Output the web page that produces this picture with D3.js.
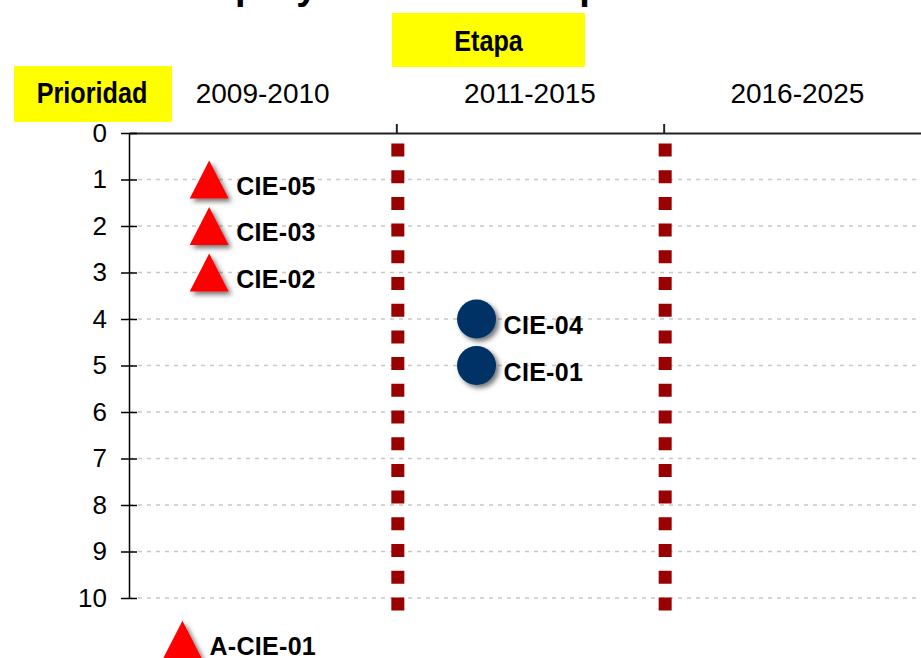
<!DOCTYPE html>
<html>
<head>
<meta charset="utf-8">
<script src="https://cdn.jsdelivr.net/npm/d3@7"></script>
<style>
body { margin:0; background:#fff; }
text { font-family: "Liberation Sans", Arial, sans-serif; }
</style>
</head>
<body>
<svg id="svg"></svg>
<script>
var W = 921, H = 658;

// etapas (eje superior) y prioridades (eje izquierdo)
var etapas = ["2009-2010", "2011-2015", "2016-2025"];
var limites = [1, 2];
var prioridades = [0, 1, 2, 3, 4, 5, 6, 7, 8, 9, 10];

// proyectos
var proyectos = ["CIE-05", "CIE-03", "CIE-02", "CIE-04", "CIE-01", "A-CIE-01"];
var posEtapa  = [0.3, 0.3, 0.3, 1.3, 1.3, 0.2];
var prioridad = [1, 2, 3, 4, 5, 10.9];
var forma     = ["tri", "tri", "tri", "circ", "circ", "tri"];

var datos = proyectos.map(function(p, i) {
  return {id: p, etapa: posEtapa[i], prio: prioridad[i], forma: forma[i]};
});

var svg = d3.select("#svg")
    .attr("width", W)
    .attr("height", H);

svg.append("rect").attr("width", W).attr("height", H).attr("fill", "#fff");

var defs = svg.append("defs");
defs.append("filter")
    .attr("id", "sombra")
    .attr("x", "-50%").attr("y", "-50%").attr("width", "200%").attr("height", "200%")
  .append("feDropShadow")
    .attr("dx", 3).attr("dy", 3)
    .attr("stdDeviation", 2.5)
    .attr("flood-color", "#000")
    .attr("flood-opacity", 0.55);

var x = d3.scaleLinear().domain([0, 3]).range([129, 931]);
var y = d3.scaleLinear().domain([0, 10]).range([133, 598]);

// titulo (cortado arriba, como en la imagen)
var titulo = svg.append("text")
    .attr("y", -1)
    .attr("font-size", 38)
    .attr("font-weight", "bold")
    .text("Priorización de los proyectos de la etapa");
var pre = titulo.node().getSubStringLength(0, "Priorización de los ".length);
titulo.attr("x", 235 - pre);

// cuadros amarillos (texto estrecho)
function textoEstrecho(cx, cy, s) {
  svg.append("text")
      .attr("transform", "translate(" + cx + "," + cy + ") scale(0.84,1)")
      .attr("text-anchor", "middle")
      .attr("font-size", 30)
      .attr("font-weight", "bold")
      .text(s);
}
svg.append("rect").attr("x", 392).attr("y", 13).attr("width", 193).attr("height", 54).attr("fill", "#ffff00");
textoEstrecho(488.5, 51, "Etapa");

svg.append("rect").attr("x", 14).attr("y", 66).attr("width", 158).attr("height", 56).attr("fill", "#ffff00");
textoEstrecho(92, 103, "Prioridad");

// etiquetas de etapa
svg.selectAll("text.etapa")
    .data(etapas)
  .enter().append("text")
    .attr("class", "etapa")
    .attr("x", function(d, i) { return x(i + 0.5); })
    .attr("y", 103)
    .attr("text-anchor", "middle")
    .attr("font-size", 28)
    .text(function(d) { return d; });

// lineas de cuadricula
svg.selectAll("line.grid")
    .data(prioridades.slice(1))
  .enter().append("line")
    .attr("class", "grid")
    .attr("x1", x(0)).attr("x2", W)
    .attr("y1", function(d) { return y(d); })
    .attr("y2", function(d) { return y(d); })
    .attr("stroke", "#c8c8c8")
    .attr("stroke-width", 1.5)
    .attr("stroke-dasharray", "4,5");

// eje superior
var ejeX = svg.append("g")
    .attr("transform", "translate(0," + y(0) + ")")
    .call(d3.axisTop(x).tickValues(limites).tickSize(9).tickSizeOuter(0).tickFormat(""));
ejeX.selectAll("path, line").attr("stroke", "#222").attr("stroke-width", 2);

// eje izquierdo
var ejeY = svg.append("g")
    .attr("transform", "translate(" + x(0) + ",0)")
    .call(d3.axisLeft(y).tickValues(prioridades).tickSize(8).tickSizeOuter(0).tickPadding(14).tickFormat(d3.format("d")));
ejeY.selectAll(".tick line").attr("x1", 8).attr("x2", -8);
ejeY.selectAll("path, line").attr("stroke", "#000").attr("stroke-width", 1.5);
ejeY.selectAll("text")
    .attr("font-size", 26)
    .attr("fill", "#000")
    .style("font-family", "'Liberation Sans', Arial, sans-serif");

// separadores de etapas
svg.selectAll("line.sep")
    .data(limites)
  .enter().append("line")
    .attr("class", "sep")
    .attr("x1", function(d) { return x(d) + 1.5; })
    .attr("x2", function(d) { return x(d) + 1.5; })
    .attr("y1", y(0) + 10.5)
    .attr("y2", y(10) + 14)
    .attr("stroke", "#990000")
    .attr("stroke-width", 13)
    .attr("stroke-dasharray", "13,13.7");

// marcadores
var puntos = svg.selectAll("g.proy")
    .data(datos)
  .enter().append("g")
    .attr("class", "proy")
    .attr("transform", function(d) { return "translate(" + x(d.etapa) + "," + y(d.prio) + ")"; });

puntos.filter(function(d) { return d.forma == "tri"; })
  .append("path")
    .attr("d", "M0,-19L19.5,19L-19.5,19Z")
    .attr("fill", "#ff0000")
    .attr("filter", "url(#sombra)");

puntos.filter(function(d) { return d.forma == "circ"; })
  .append("circle")
    .attr("r", 19.5)
    .attr("fill", "#003366")
    .attr("filter", "url(#sombra)");

puntos.append("text")
    .attr("x", 27)
    .attr("y", 15)
    .attr("font-size", 25)
    .attr("font-weight", "bold")
    .attr("letter-spacing", 0.3)
    .text(function(d) { return d.id; });
</script>
</body>
</html>
